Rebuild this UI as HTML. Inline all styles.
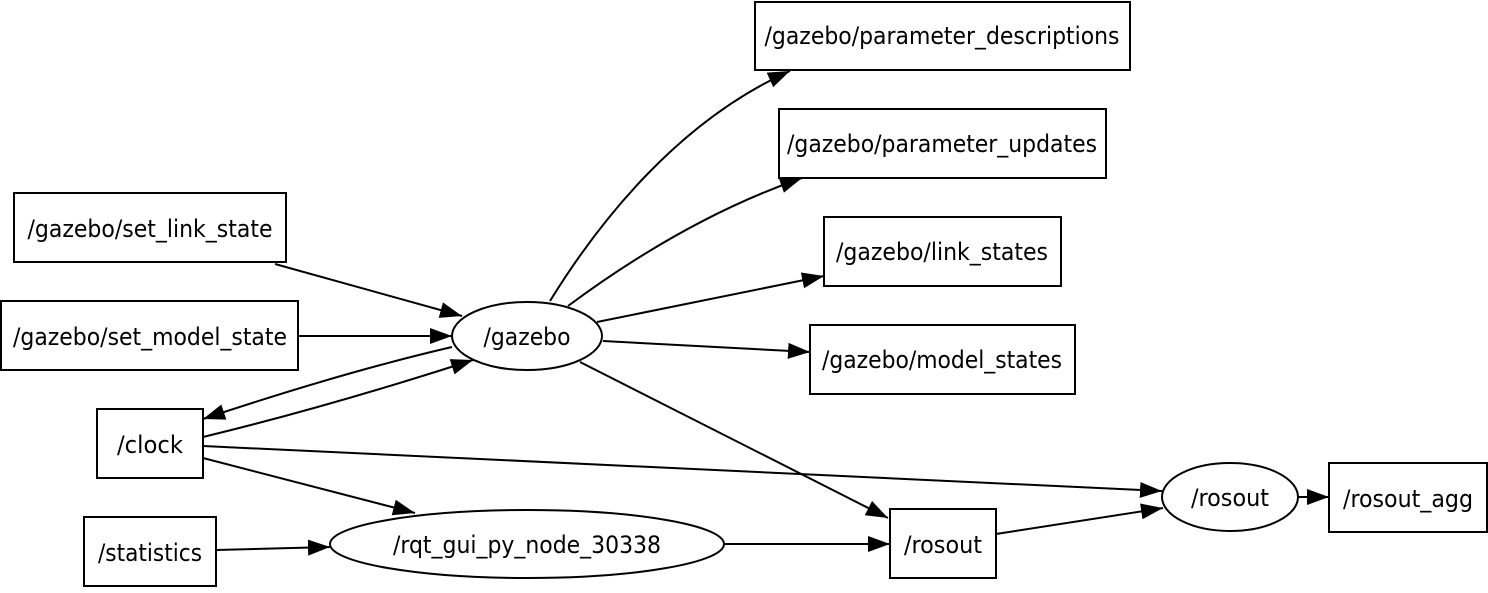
<!DOCTYPE html>
<html><head><meta charset="utf-8"><style>
html,body{margin:0;padding:0;background:#fff;}
svg text{font-family:"DejaVu Sans Condensed","DejaVu Sans","Liberation Sans",sans-serif;font-stretch:condensed;font-size:24px;fill:#000;}
</style></head><body>
<svg width="1488" height="588" viewBox="0 0 1488 588" xmlns="http://www.w3.org/2000/svg">
<defs>
<marker id="a" markerWidth="24" markerHeight="18" refX="22" refY="8" orient="auto" markerUnits="userSpaceOnUse">
<polygon points="0,0 22,8 0,16" fill="#000"/>
</marker>
</defs>
<g fill="none" stroke="#000" stroke-width="2">
<rect x="755" y="2" width="375" height="68"/>
<rect x="779" y="109" width="327" height="69"/>
<rect x="824" y="217" width="237" height="69"/>
<rect x="810" y="325" width="265" height="69"/>
<rect x="14" y="193" width="272" height="69"/>
<rect x="1" y="301" width="297" height="69"/>
<rect x="97" y="409" width="106" height="69"/>
<rect x="84" y="517" width="132" height="69"/>
<rect x="890" y="509" width="106" height="69"/>
<rect x="1329" y="463" width="158" height="69"/>
<ellipse cx="527" cy="336" rx="75" ry="34"/>
<ellipse cx="527" cy="544" rx="197" ry="34"/>
<ellipse cx="1230" cy="497" rx="68" ry="34"/>
</g>
<g fill="none" stroke="#000" stroke-width="2" marker-end="url(#a)">
<path d="M550,301 C600,220 680,120 790,71"/>
<path d="M568,306 C630,260 710,210 802,178"/>
<path d="M597,322 L824,276"/>
<path d="M603,341 L810,352"/>
<path d="M275,264 L462,316"/>
<path d="M298,336 L452,336"/>
<path d="M452,347 C370,366 290,390 203,419"/>
<path d="M203,437 C290,416 380,390 473,360"/>
<path d="M203,458 L415,513"/>
<path d="M203,446 L1162,491"/>
<path d="M216,550 L330,547"/>
<path d="M724,544 L890,544"/>
<path d="M580,362 L888,518"/>
<path d="M996,534 L1163,508"/>
<path d="M1298,497 L1329,497"/>
</g>
<g text-anchor="middle">
<text x="942" y="44" textLength="355" lengthAdjust="spacingAndGlyphs">/gazebo/parameter_descriptions</text>
<text x="942" y="152" textLength="310" lengthAdjust="spacingAndGlyphs">/gazebo/parameter_updates</text>
<text x="942" y="260" textLength="212" lengthAdjust="spacingAndGlyphs">/gazebo/link_states</text>
<text x="942" y="368" textLength="240" lengthAdjust="spacingAndGlyphs">/gazebo/model_states</text>
<text x="150" y="237" textLength="245" lengthAdjust="spacingAndGlyphs">/gazebo/set_link_state</text>
<text x="150" y="345" textLength="274" lengthAdjust="spacingAndGlyphs">/gazebo/set_model_state</text>
<text x="150" y="453" textLength="66" lengthAdjust="spacingAndGlyphs">/clock</text>
<text x="150" y="561" textLength="104" lengthAdjust="spacingAndGlyphs">/statistics</text>
<text x="943" y="553" textLength="78" lengthAdjust="spacingAndGlyphs">/rosout</text>
<text x="1408" y="507" textLength="130" lengthAdjust="spacingAndGlyphs">/rosout_agg</text>
<text x="527" y="345" textLength="87" lengthAdjust="spacingAndGlyphs">/gazebo</text>
<text x="527" y="553" textLength="268" lengthAdjust="spacingAndGlyphs">/rqt_gui_py_node_30338</text>
<text x="1230" y="506" textLength="78" lengthAdjust="spacingAndGlyphs">/rosout</text>
</g>
</svg>
</body></html>
